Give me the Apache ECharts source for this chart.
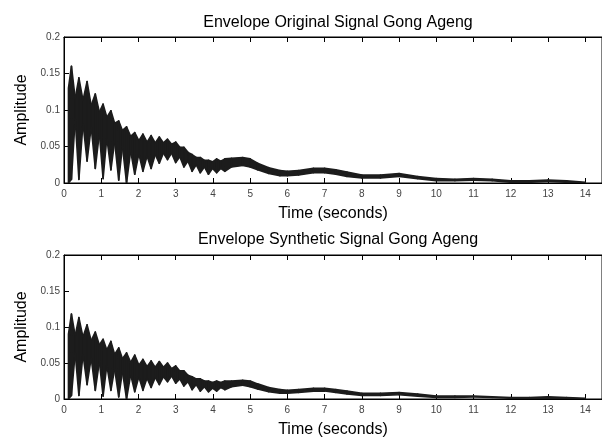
<!DOCTYPE html>
<html>
<head>
<meta charset="utf-8">
<script src="https://cdn.jsdelivr.net/npm/echarts@6/dist/echarts.min.js"></script>
<style>
  html, body { margin: 0; padding: 0; background: #fff; }
  #main { width: 602px; height: 439px; }
</style>
</head>
<body>
<div id="main"></div>
<script>
// time (s) of each envelope sample, shared by both plots
var times = [0.12, 0.2, 0.3, 0.4, 0.51, 0.62, 0.73, 0.84, 0.95, 1.05, 1.15, 1.26, 1.36, 1.47, 1.57, 1.68, 1.79, 1.9, 2.01, 2.12,
  2.23, 2.34, 2.45, 2.56, 2.67, 2.78, 2.89, 3.0, 3.11, 3.22, 3.33, 3.44, 3.55, 3.66, 3.77, 3.88, 3.99, 4.1, 4.21, 4.32,
  4.5, 4.8, 5.0, 5.2, 5.5, 5.8, 6.0, 6.3, 6.7, 7.0, 7.3, 7.6, 8.0, 8.5, 9.0, 9.5, 10.0, 10.5, 11.0, 11.5,
  12.0, 12.5, 13.0, 13.5, 14.0]

// original signal: upper / lower edge of the envelope band
var origHi = [0.13, 0.160, 0.116, 0.144, 0.113, 0.139, 0.106, 0.122, 0.097, 0.108, 0.090, 0.099, 0.082, 0.085, 0.072, 0.077, 0.064, 0.069, 0.058, 0.067,
  0.056, 0.065, 0.055, 0.063, 0.055, 0.060, 0.053, 0.056, 0.049, 0.049, 0.042, 0.039, 0.035, 0.035, 0.031, 0.031, 0.029, 0.033, 0.030, 0.033,
  0.034, 0.035, 0.033, 0.027, 0.021, 0.017, 0.016, 0.017, 0.020, 0.020, 0.018, 0.015, 0.011, 0.011, 0.013, 0.009, 0.006, 0.005, 0.006, 0.005,
  0.003, 0.003, 0.004, 0.003, 0.001]
var origLo = [0.0, 0.005, 0.088, 0.005, 0.082, 0.030, 0.077, 0.020, 0.068, 0.006, 0.062, 0.018, 0.057, 0.004, 0.050, 0.0, 0.044, 0.012, 0.040, 0.016,
  0.037, 0.020, 0.039, 0.027, 0.041, 0.032, 0.041, 0.028, 0.036, 0.022, 0.030, 0.016, 0.025, 0.014, 0.022, 0.012, 0.020, 0.014, 0.020, 0.016,
  0.022, 0.024, 0.022, 0.018, 0.013, 0.010, 0.010, 0.011, 0.014, 0.014, 0.012, 0.009, 0.007, 0.007, 0.009, 0.006, 0.003, 0.003, 0.004, 0.003,
  0.001, 0.001, 0.002, 0.001, 0.0]

// synthetic signal
var synthHi = [0.09, 0.118, 0.088, 0.113, 0.086, 0.103, 0.081, 0.093, 0.075, 0.083, 0.068, 0.080, 0.062, 0.071, 0.056, 0.064, 0.051, 0.061, 0.047, 0.055,
  0.045, 0.053, 0.044, 0.052, 0.044, 0.050, 0.042, 0.046, 0.039, 0.039, 0.033, 0.031, 0.028, 0.028, 0.025, 0.025, 0.023, 0.025, 0.023, 0.025,
  0.025, 0.026, 0.025, 0.021, 0.016, 0.013, 0.012, 0.013, 0.015, 0.015, 0.013, 0.011, 0.008, 0.008, 0.009, 0.007, 0.004, 0.004, 0.004, 0.003,
  0.002, 0.002, 0.003, 0.002, 0.001]
var synthLo = [0.0, 0.005, 0.064, 0.005, 0.062, 0.020, 0.057, 0.012, 0.052, 0.004, 0.047, 0.012, 0.042, 0.003, 0.038, 0.0, 0.034, 0.010, 0.031, 0.012,
  0.029, 0.016, 0.030, 0.020, 0.031, 0.024, 0.032, 0.022, 0.028, 0.018, 0.024, 0.013, 0.020, 0.011, 0.017, 0.010, 0.015, 0.011, 0.016, 0.013,
  0.017, 0.019, 0.017, 0.014, 0.010, 0.008, 0.008, 0.009, 0.011, 0.011, 0.009, 0.007, 0.005, 0.005, 0.006, 0.004, 0.002, 0.002, 0.003, 0.002,
  0.001, 0.001, 0.001, 0.001, 0.0]

var titles = ['Envelope Original Signal Gong Ageng', 'Envelope Synthetic Signal Gong Ageng']

var font = 'Liberation Sans, Arial, Helvetica, sans-serif'
var ink = '#1c1c1c'

function xAxes (gridIndex) {
  var base = {
    type: 'value',
    gridIndex: gridIndex,
    min: 0,
    max: 14.45,
    interval: 1,
    splitLine: { show: false },
    axisLine: { show: true, onZero: false, lineStyle: { color: '#000', width: 1 } },
    axisTick: { inside: true, length: 5, lineStyle: { color: '#000' } }
  }
  var bottom = Object.assign({}, base, {
    position: 'bottom',
    name: 'Time (seconds)',
    nameLocation: 'middle',
    nameGap: 23,
    nameTextStyle: { fontFamily: font, fontSize: 16, color: '#000' },
    axisLabel: { fontFamily: font, fontSize: 10, color: '#444', margin: 6, showMaxLabel: false }
  })
  var top = Object.assign({}, base, {
    position: 'top',
    axisLabel: { show: false }
  })
  return [bottom, top]
}

function yAxis (gridIndex) {
  return {
    type: 'value',
    gridIndex: gridIndex,
    min: 0,
    max: 0.2,
    interval: 0.05,
    name: 'Amplitude',
    nameLocation: 'middle',
    nameGap: 32,
    nameTextStyle: { fontFamily: font, fontSize: 16, color: '#000' },
    splitLine: { show: false },
    axisLine: { show: true, lineStyle: { color: '#000', width: 1 } },
    axisTick: { inside: true, length: 5, lineStyle: { color: '#000' } },
    axisLabel: { fontFamily: font, fontSize: 10, color: '#444', margin: 4 }
  }
}

// band between the upper and lower edge, one quad per pair of neighbouring samples
function bandSeries (hi, lo, xIdx, yIdx) {
  var segs = []
  for (var i = 0; i < times.length - 1; i++) {
    segs.push([times[i], times[i + 1], hi[i], hi[i + 1], lo[i], lo[i + 1]])
  }
  return {
    type: 'custom',
    xAxisIndex: xIdx,
    yAxisIndex: yIdx,
    clip: true,
    silent: true,
    data: segs,
    encode: { x: [0, 1], y: [2, 3, 4, 5] },
    renderItem: function (params, api) {
      var pts = [
        api.coord([api.value(0), api.value(2)]),
        api.coord([api.value(1), api.value(3)]),
        api.coord([api.value(1), api.value(5)]),
        api.coord([api.value(0), api.value(4)])
      ]
      return {
        type: 'polygon',
        shape: { points: pts },
        style: { fill: ink, stroke: ink, lineWidth: 1.6, lineJoin: 'round' }
      }
    }
  }
}

var chart = echarts.init(document.getElementById('main'))
var xs0 = xAxes(0)
var xs1 = xAxes(1)

var option = {
  animation: false,
  backgroundColor: '#fff',
  title: [
    { text: titles[0], left: 333, top: 10, textAlign: 'center', textStyle: { fontFamily: font, fontSize: 16, fontWeight: 'normal', color: '#000' } },
    { text: titles[1], left: 333, top: 227, textAlign: 'center', textStyle: { fontFamily: font, fontSize: 16, fontWeight: 'normal', color: '#000' } }
  ],
  grid: [
    { left: 64, top: 37, width: 540, height: 146, show: true, borderColor: '#000', borderWidth: 1 },
    { left: 64, top: 255, width: 540, height: 148, show: true, borderColor: '#000', borderWidth: 1 }
  ],
  xAxis: [xs0[0], xs0[1], xs1[0], xs1[1]],
  yAxis: [yAxis(0), yAxis(1)],
  series: [bandSeries(origHi, origLo, 0, 0), bandSeries(synthHi, synthLo, 2, 1)]
}
chart.setOption(option)
</script>
</body>
</html>
